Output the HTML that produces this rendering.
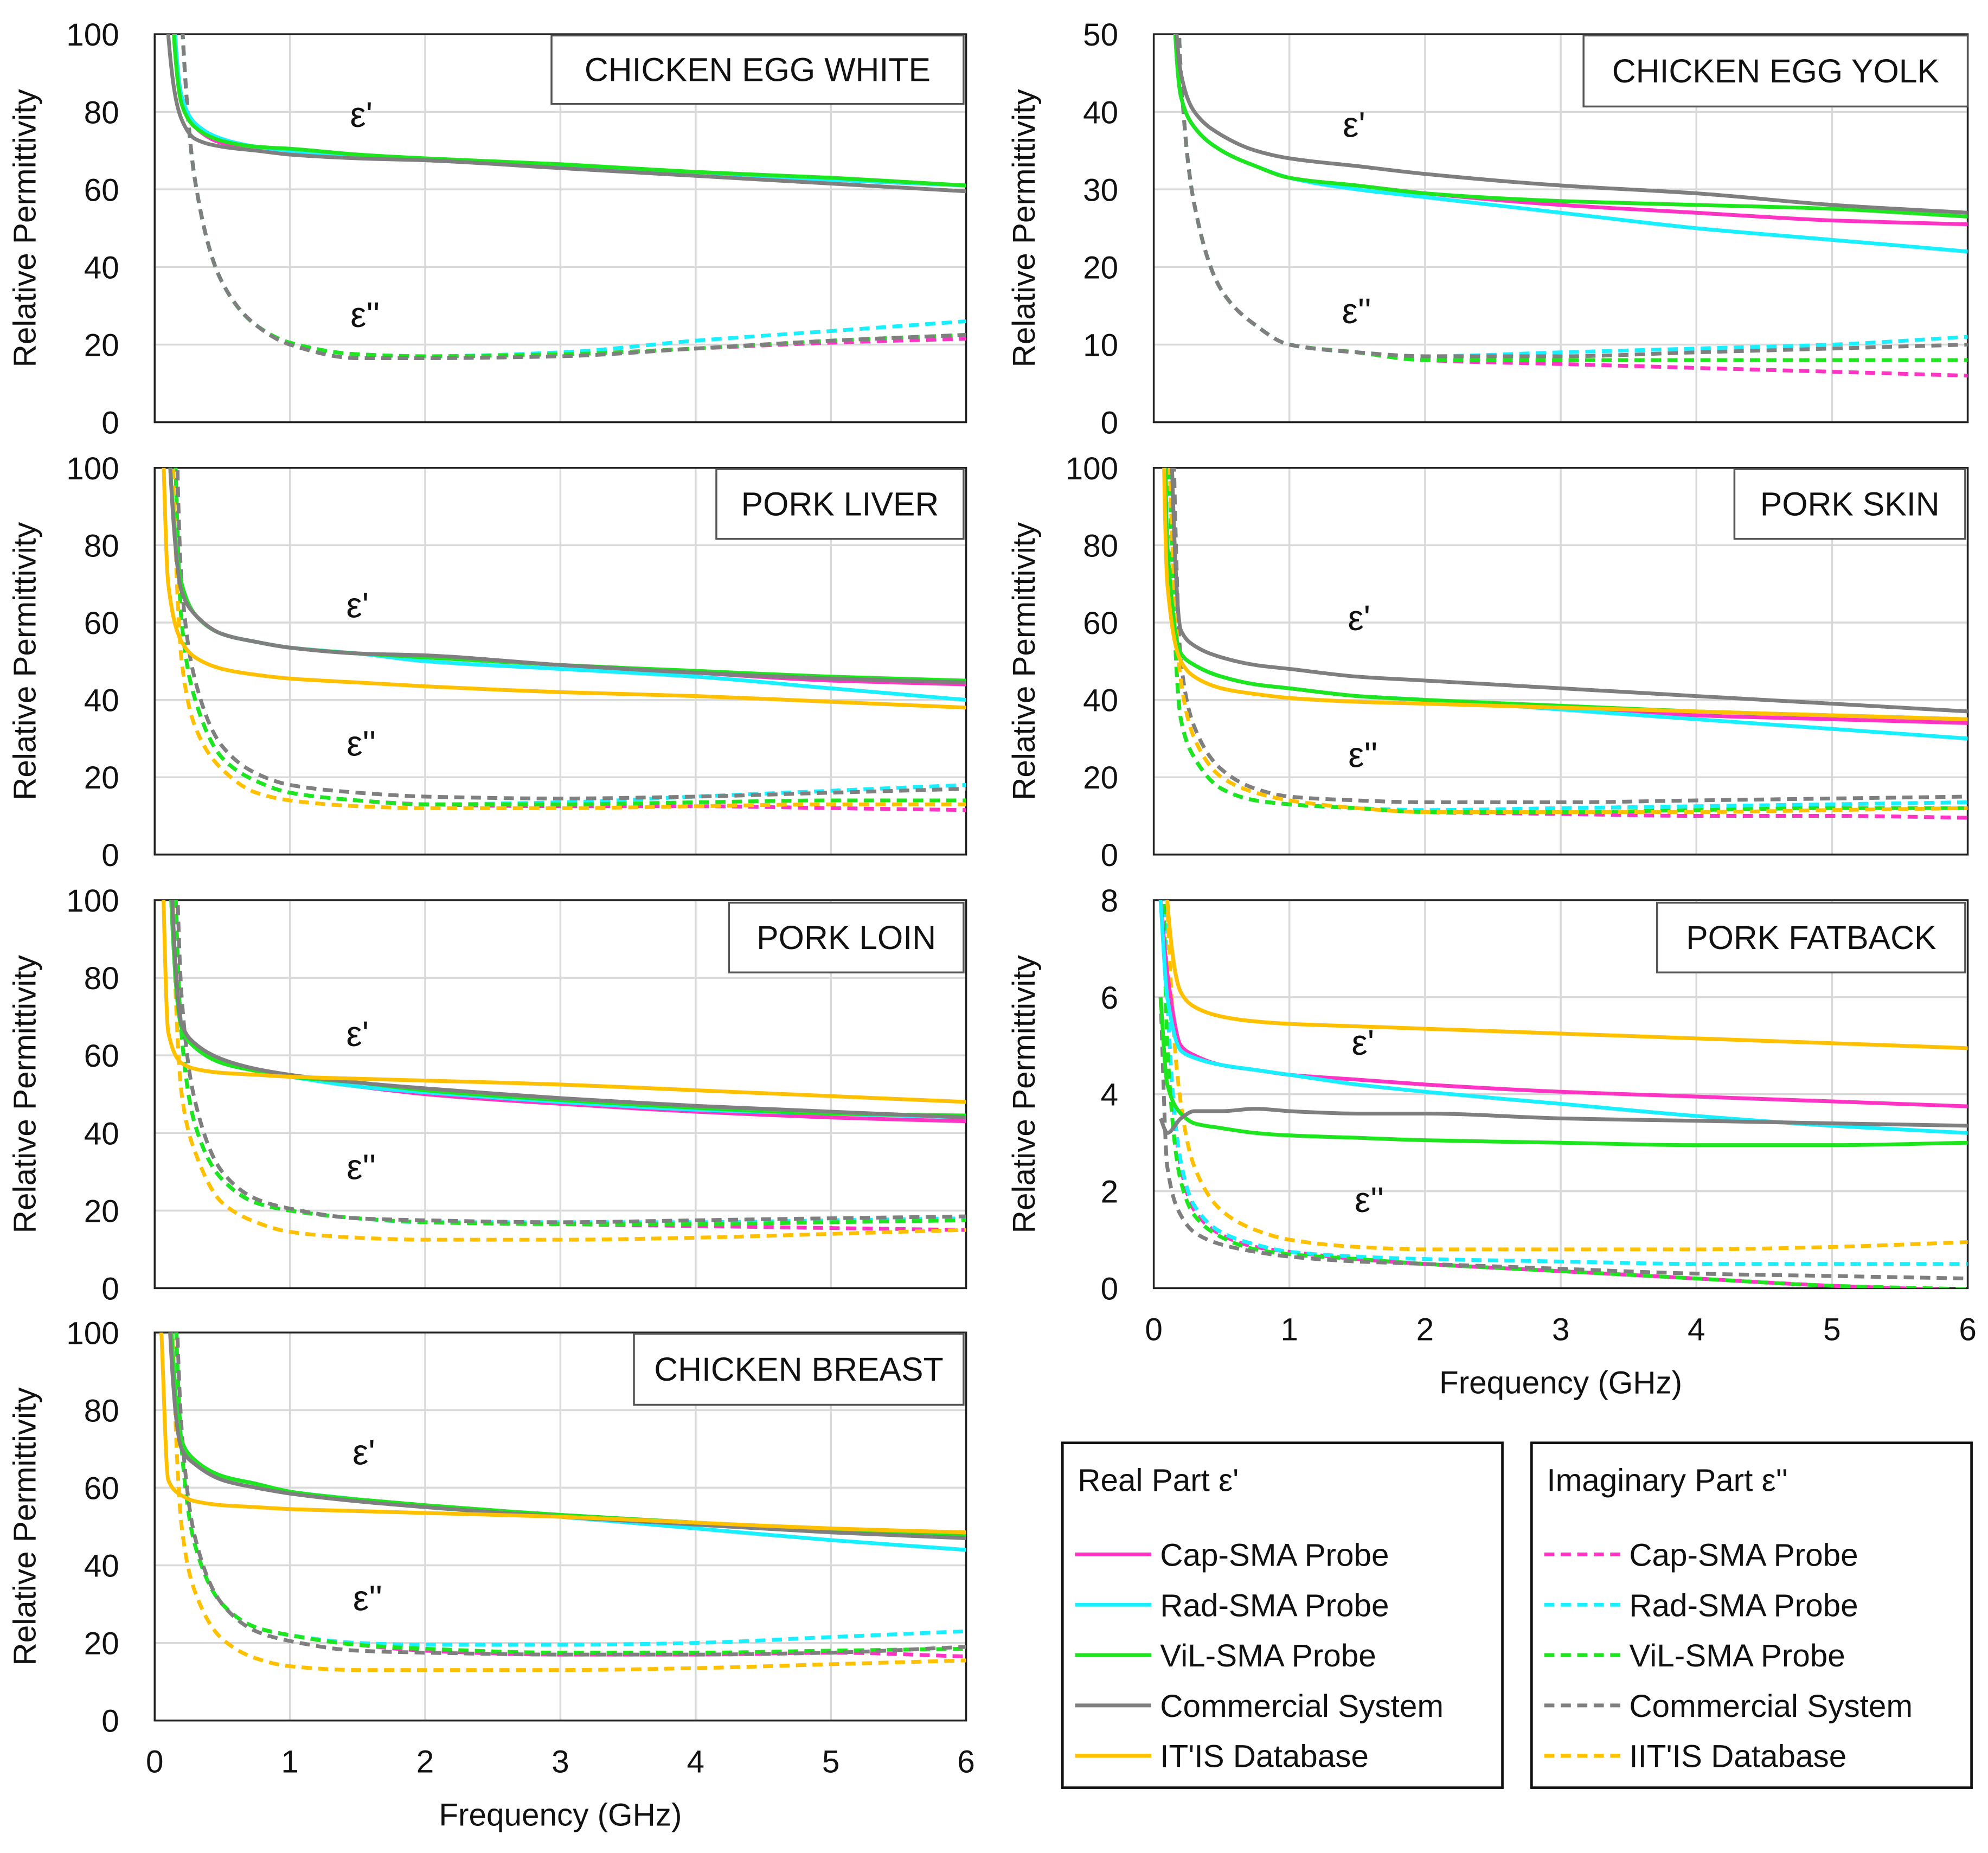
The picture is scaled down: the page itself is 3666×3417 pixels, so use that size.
<!DOCTYPE html>
<html><head><meta charset="utf-8"><style>
html,body{margin:0;padding:0;background:#fff}
svg{display:block}
text{font-family:"Liberation Sans","DejaVu Sans",sans-serif;fill:#111}
</style></head><body>
<svg id="chart" width="3666" height="3417" viewBox="0 0 1568 1461.5" xmlns="http://www.w3.org/2000/svg"></svg>
<script>
const freqs=[0.05,0.1,0.2,0.3,0.5,0.75,1,1.5,2,3,4,5,6];
const xTicks=[0,1,2,3,4,5,6];
const seriesNames=["Cap-SMA Probe","Rad-SMA Probe","ViL-SMA Probe","Commercial System","IT'IS Database"];
const seriesColors=["#ff33c4","#19f0ff","#1ee61e","#7f7f7f","#ffc000"];
// Chicken egg white
const ewReal=[[300,130,82,76,72,71,70,68.5,67.5,66,64.5,62.5,61],[300,140,84,77,73,71,70,68.5,67.5,66,64.5,62.5,61],[300,130,82,76,72.5,71,70.5,69,68,66.5,64.5,63,61],[200,100,78,73,71,70,69,68,67.5,65.5,63.5,61.5,59.5],null];
const ewImag=[[900,300,105,62,36,25,20.5,17.5,17,17.5,19,20.5,21.5],[900,300,105,62,36,25,20.5,17.5,17,18,21,23.5,26],[900,300,105,62,36,25,20.5,17.5,17,17.5,19,21,22.5],[900,300,105,62,36,25,20,16.5,16.5,17,19,21,22.5],null];
// Chicken egg yolk
const eyReal=[[200,80,42,38,35,33,31.5,30.5,29.5,28,27,26,25.5],[200,80,42,38,35,33,31.5,30,29,27,25,23.5,22],[200,80,42,38,35,33,31.5,30.5,29.5,28.5,28,27.5,26.5],[200,80,45,40,37,35,34,33,32,30.5,29.5,28,27],null];
const eyImag=[[400,150,45,28,17,12.5,10,9,8,7.5,7,6.5,6],[400,150,45,28,17,12.5,10,9,8.5,9,9.5,10,11],[400,150,45,28,17,12.5,10,9,8,8,8,8,8],[400,150,45,28,17,12.5,10,9,8.5,8.5,9,9.5,10],null];
// Pork liver
const plReal=[[200,110,70,62,57,55,53.5,52,51,49,47,45,44],[200,110,70,62,57,55,53.5,52,50,48,46,43,40],[200,110,70,62,57,55,53.5,52,51,49,47.5,46,45],[200,110,68,62,57,55,53.5,52,51.5,49,47,45.5,44.5],[120,70,55,51,48,46.5,45.5,44.5,43.5,42,41,39.5,38]];
const plImag=[[400,200,60,40,25,19,16,14,13,12.5,12.5,12,11.5],[400,200,60,40,25,19,16,14,13,13.5,15,16.5,18],[400,200,60,40,25,19,16,14,13,13,13.5,14,14],[500,250,70,45,28,21,18,16,15,14.5,15,16,17],[300,150,50,33,22,16,14,12.5,12,12,12.5,13,13]];
// Pork skin
const psReal=[[200,80,52,49,46,44,43,41,40,38,36,35,34],[200,80,52,49,46,44,43,41,40,37.5,35,32.5,30],[200,80,52,49,46,44,43,41,40,38.5,37,36,35],[400,150,58,54,51,49,48,46,45,43,41,39,37],[150,70,50,46,43,41.5,40.5,39.5,39,38,37,36,35]];
const psImag=[[300,120,35,25,17,14,13,12,11,10.5,10,10,9.5],[300,120,35,25,17,14,13,12,11.5,12,12.5,13,13.5],[300,120,35,25,17,14,13,12,11,11,11.5,12,12],[400,200,50,33,22,17,15,14,13.5,13.5,14,14.5,15],[250,120,45,30,20,16,14,12,11,11,11,11.5,12]];
// Pork loin
const loReal=[[300,120,67,62,58,56,54.5,52,50,47.5,45.5,44,43],[300,120,67,62,58,56,54.5,52,50.5,48,46,45,44],[300,120,67,62,58,56,54.5,53,51,48.5,46.5,45,44.5],[300,130,68,63,59,56.5,55,53,51.5,49,47,45.5,44],[120,66,58,56.5,55.5,55,54.5,54,53.5,52.5,51,49.5,48]];
const loImag=[[500,200,65,42,28,22,20,18,17,16.5,16,15.5,15],[500,200,65,42,28,22,20,18,17,17,17,17.5,18],[500,200,65,42,28,22,20,18,17,16.5,16.5,17,17.5],[600,250,75,48,30,23,20.5,18,17.5,17,17.5,18,18.5],[400,150,50,35,22,17,14.5,13,12.5,12.5,13,14,15]];
// Pork fatback
const fbReal=[[8,6.5,5,4.8,4.6,4.5,4.4,4.3,4.2,4.05,3.95,3.85,3.75],[8,6,4.9,4.75,4.6,4.5,4.4,4.2,4.05,3.8,3.55,3.35,3.2],[6,4.2,3.6,3.4,3.3,3.2,3.15,3.1,3.05,3,2.95,2.95,3],[3.5,3.2,3.5,3.65,3.65,3.7,3.65,3.6,3.6,3.5,3.45,3.4,3.35],[15,8,6.1,5.8,5.6,5.5,5.45,5.4,5.35,5.25,5.15,5.05,4.95]];
const fbImag=[[15,6,2.5,1.6,1.1,0.85,0.75,0.6,0.5,0.35,0.2,0.05,-0.05],[15,6,2.6,1.7,1.15,0.9,0.75,0.65,0.6,0.55,0.5,0.5,0.5],[12,5,2.2,1.5,1.05,0.8,0.7,0.6,0.5,0.35,0.2,0.05,-0.02],[6,2.5,1.5,1.15,0.9,0.75,0.65,0.55,0.5,0.4,0.3,0.25,0.2],[20,8,3.8,2.5,1.6,1.2,1,0.85,0.8,0.8,0.8,0.85,0.95]];
// Chicken breast
const cbReal=[[300,120,72,67,63,61,59,57,55.5,53,51,49,47],[300,120,72,67,63,61,59,57,55,52.5,49.5,46.5,44],[300,120,72,67,63,61,59,57,55.5,53,51,49,47.5],[300,110,70,66,62,60,58.5,56.5,55,52.5,50.5,48.5,47],[100,62,58,56.5,55.5,55,54.5,54,53.5,52.5,51,49.5,48.5]];
const cbImag=[[500,200,70,45,30,24,22,19.5,18,17,17,17.5,16.5],[500,200,70,45,30,24,22,20,19.5,19.5,20,21.5,23],[500,200,70,45,30,24,22,19.5,18.5,17.5,17.5,18,18.5],[600,230,75,47,30,23,20.5,18,17.5,17,17,17.5,19],[400,150,50,33,21,16,14,13,13,13,13.5,14.5,15.5]];

const NS="http://www.w3.org/2000/svg";
const svg=document.getElementById('chart');
function el(tag,attrs,parent){const e=document.createElementNS(NS,tag);for(const k in attrs)e.setAttribute(k,attrs[k]);(parent||svg).appendChild(e);return e;}
function txt(s,attrs,parent){const e=el('text',attrs,parent);e.textContent=s;return e;}
function monoPath(px,py){
 const n=px.length,dx=[],s=[],m=[];
 for(let i=0;i<n-1;i++){dx[i]=px[i+1]-px[i];s[i]=(py[i+1]-py[i])/dx[i];}
 m[0]=s[0];m[n-1]=s[n-2];
 for(let i=1;i<n-1;i++){m[i]=(s[i-1]*s[i]<=0)?0:(3*(dx[i-1]+dx[i]))/((2*dx[i]+dx[i-1])/s[i-1]+(dx[i]+2*dx[i-1])/s[i]);}
 let d='M'+px[0].toFixed(1)+','+py[0].toFixed(1);
 for(let i=0;i<n-1;i++){const h=dx[i]/3;
  d+='C'+(px[i]+h).toFixed(1)+','+(py[i]+m[i]*h).toFixed(1)+' '+(px[i+1]-h).toFixed(1)+','+(py[i+1]-m[i+1]*h).toFixed(1)+' '+px[i+1].toFixed(1)+','+py[i+1].toFixed(1);}
 return d;
}

const panels=[
 {id:'egg-white',title:'CHICKEN EGG WHITE',x0:122,x1:762,y0:27,y1:333,ymax:100,yt:[0,20,40,60,80,100],re:ewReal,im:ewImag,box:[435,28,325,54],ep1:[285,100],ep2:[288,258],xl:false},
 {id:'egg-yolk',title:'CHICKEN EGG YOLK',x0:910,x1:1552,y0:27,y1:333,ymax:50,yt:[0,10,20,30,40,50],re:eyReal,im:eyImag,box:[1249,28,303,56],ep1:[1068,108],ep2:[1070,255],xl:false},
 {id:'pork-liver',title:'PORK LIVER',x0:122,x1:762,y0:369,y1:674,ymax:100,yt:[0,20,40,60,80,100],re:plReal,im:plImag,box:[565,370,195,55],ep1:[282,487],ep2:[285,596],xl:false},
 {id:'pork-skin',title:'PORK SKIN',x0:910,x1:1552,y0:369,y1:674,ymax:100,yt:[0,20,40,60,80,100],re:psReal,im:psImag,box:[1368,370,182,55],ep1:[1072,497],ep2:[1075,605],xl:false},
 {id:'pork-loin',title:'PORK LOIN',x0:122,x1:762,y0:710,y1:1016,ymax:100,yt:[0,20,40,60,80,100],re:loReal,im:loImag,box:[575,712,185,55],ep1:[282,825],ep2:[285,930],xl:false},
 {id:'pork-fatback',title:'PORK FATBACK',x0:910,x1:1552,y0:710,y1:1016,ymax:8,yt:[0,2,4,6,8],re:fbReal,im:fbImag,box:[1307,712,243,55],ep1:[1075,832],ep2:[1080,956],xl:true},
 {id:'chicken-breast',title:'CHICKEN BREAST',x0:122,x1:762,y0:1051,y1:1357,ymax:100,yt:[0,20,40,60,80,100],re:cbReal,im:cbImag,box:[500,1052,260,56],ep1:[287,1155],ep2:[290,1270],xl:true}
];

panels.forEach((p,pi)=>{
 const g=el('g',{});  
 const xs=v=>p.x0+(v/6)*(p.x1-p.x0);
 const ys=v=>p.y1-(v/p.ymax)*(p.y1-p.y0);
 xTicks.forEach(t=>{ if(t>0){const l=el('line',{x1:xs(t),x2:xs(t),y1:p.y0,y2:p.y1,stroke:'#d9d9d9','stroke-width':1.5},g);  }});
 p.yt.forEach(t=>{ if(t>0){const l=el('line',{x1:p.x0,x2:p.x1,y1:ys(t),y2:ys(t),stroke:'#d9d9d9','stroke-width':1.5},g);  }
   const tl=txt(String(t),{x:p.x0-28,y:ys(t)+9,'text-anchor':'end','font-size':25},g);  });
 const fr=el('rect',{x:p.x0,y:p.y0,width:p.x1-p.x0,height:p.y1-p.y0,fill:'none',stroke:'#222','stroke-width':1.5},g);
  
 const yl=txt('Relative Permittivity',{transform:`translate(${p.x0-94},${(p.y0+p.y1)/2}) rotate(-90)`,'text-anchor':'middle','font-size':25},g);
  
 if(p.xl){
  xTicks.forEach(t=>{const tl=txt(String(t),{x:xs(t),y:p.y1+41,'text-anchor':'middle','font-size':25},g);  });
  const xt=txt('Frequency (GHz)',{x:(p.x0+p.x1)/2,y:p.y1+83,'text-anchor':'middle','font-size':25},g);
   
 }
 const cp=el('clipPath',{id:'cp'+pi},g); el('rect',{x:p.x0,y:p.y0,width:p.x1-p.x0,height:p.y1-p.y0},cp);
 const sg=el('g',{'clip-path':`url(#cp${pi})`},g);
 const draw=(arr,dashed,kind)=>{arr.forEach((vals,si)=>{ if(!vals) return;
   const d=monoPath(freqs.map(xs),vals.map(ys));
   const pa=el('path',{d:d,fill:'none',stroke:seriesColors[si],'stroke-width':3,'stroke-linejoin':'round','stroke-dasharray':dashed?'8,5':'none'},sg);
   
   });};
 draw(p.im,true,'imag'); draw(p.re,false,'real');
 const bx=el('rect',{x:p.box[0],y:p.box[1],width:p.box[2],height:p.box[3],fill:'#fff',stroke:'#555','stroke-width':1.5},g);
  
 const tt=txt(p.title,{x:p.box[0]+p.box[2]/2,y:p.box[1]+p.box[3]/2+9,'text-anchor':'middle','font-size':26},g);
  
 const e1=txt("ε'",{x:p.ep1[0],y:p.ep1[1],'text-anchor':'middle','font-size':28},g);  
 const e2=txt("ε''",{x:p.ep2[0],y:p.ep2[1],'text-anchor':'middle','font-size':28},g);  
});

const legends=[{x:838,title:"Real Part ε'",dash:false,names:seriesNames,name:'real-legend'},{x:1208,title:"Imaginary Part ε''",dash:true,names:["Cap-SMA Probe","Rad-SMA Probe","ViL-SMA Probe","Commercial System","IIT'IS Database"],name:'imag-legend'}];
legends.forEach(L=>{
 const g=el('g',{});  
 const r=el('rect',{x:L.x,y:1138,width:347,height:272,fill:'#fff',stroke:'#111','stroke-width':2},g);
  
 const t=txt(L.title,{x:L.x+12,y:1176,'font-size':25},g);  
 L.names.forEach((n,i)=>{const y=1226+i*39.7;
  const ln=el('line',{x1:L.x+10,x2:L.x+70,y1:y,y2:y,stroke:seriesColors[i],'stroke-width':3,'stroke-dasharray':L.dash?'8,5':'none'},g);
   
  const tx=txt(n,{x:L.x+77,y:y+9,'font-size':25},g);  });
});
</script>
</body></html>
